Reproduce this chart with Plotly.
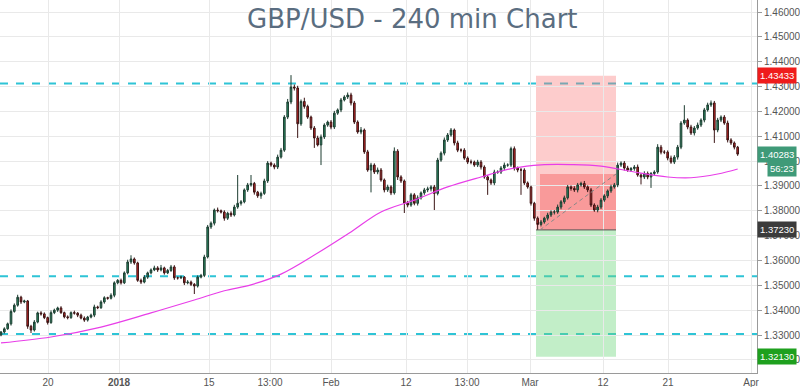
import plotly.graph_objects as go

# ---------------- data ----------------
first_open = 1.3300
closes = [
    1.3312, 1.3325, 1.3345, 1.3395, 1.3420, 1.3452, 1.3433, 1.3437, 1.3335, 1.3320,
    1.3352, 1.3389, 1.3385, 1.3370, 1.3350, 1.3390, 1.3400, 1.3409, 1.3390, 1.3373,
    1.3370, 1.3390, 1.3388, 1.3380, 1.3368, 1.3360, 1.3372, 1.3380, 1.3413, 1.3410,
    1.3433, 1.3450, 1.3448, 1.3460, 1.3510, 1.3520, 1.3510, 1.3550, 1.3594, 1.3606,
    1.3590, 1.3520, 1.3513, 1.3533, 1.3550, 1.3562, 1.3570, 1.3562, 1.3570, 1.3550,
    1.3560, 1.3574, 1.3530, 1.3530, 1.3533, 1.3510, 1.3513, 1.3504, 1.3497, 1.3533,
    1.3540, 1.3614, 1.3735, 1.3750, 1.3803, 1.3800, 1.3795, 1.3770, 1.3790, 1.3783,
    1.3815, 1.3830, 1.3836, 1.3884, 1.3904, 1.3910, 1.3875, 1.3860, 1.3870, 1.3920,
    1.3992, 1.3984, 1.3976, 1.4016, 1.4044, 1.4177, 1.4238, 1.4298, 1.4294, 1.4150,
    1.4240, 1.4220, 1.4177, 1.4133, 1.4093, 1.4065, 1.4097, 1.4145, 1.4157, 1.4137,
    1.4193, 1.4206, 1.4246, 1.4258, 1.4266, 1.4234, 1.4157, 1.4117, 1.4125, 1.4037,
    1.3964, 1.3984, 1.3956, 1.3964, 1.3924, 1.3884, 1.3896, 1.3872, 1.4040, 1.3936,
    1.3920, 1.3831, 1.3823, 1.3864, 1.3830, 1.3852, 1.3872, 1.3884, 1.3888, 1.3896,
    1.3870, 1.4004, 1.4032, 1.4085, 1.4105, 1.4125, 1.4073, 1.4044, 1.4044, 1.4012,
    1.3996, 1.3996, 1.3984, 1.3996, 1.3976, 1.3936, 1.3924, 1.3912, 1.3956, 1.3956,
    1.3972, 1.3984, 1.3984, 1.4050, 1.3972, 1.3964, 1.3964, 1.3912, 1.3896, 1.3830,
    1.3770, 1.3745, 1.3755, 1.3770, 1.3783, 1.3795, 1.3795, 1.3815, 1.3836, 1.3852,
    1.3896, 1.3890, 1.3884, 1.3904, 1.3910, 1.3896, 1.3884, 1.3823, 1.3803, 1.3815,
    1.3843, 1.3860, 1.3880, 1.3896, 1.3904, 1.3984, 1.3992, 1.3972, 1.3964, 1.3970,
    1.3976, 1.3944, 1.3936, 1.3950, 1.3936, 1.3950, 1.3956, 1.4056, 1.4036, 1.4036,
    1.4012, 1.3996, 1.4016, 1.4056, 1.4153, 1.4165, 1.4137, 1.4113, 1.4133, 1.4145,
    1.4165, 1.4206, 1.4226, 1.4234, 1.4125, 1.4165, 1.4177, 1.4153, 1.4085, 1.4073,
    1.4056, 1.4028,
]
wick_up_pips = [
    4, 6, 5, 8, 7, 10, 6, 5, 4, 6, 8, 5, 7, 6, 4, 9, 6, 5, 7, 4,
    6, 5, 8, 4, 6, 7, 5, 6, 9, 5, 7, 6, 4, 8, 6, 5, 7, 6, 9, 15,
    6, 5, 7, 8, 5, 6, 9, 7, 12, 5, 6, 8, 7, 5, 6, 4, 8, 6, 5, 7,
    6, 9, 8, 7, 6, 10, 5, 7, 6, 8, 9, 114, 7, 6, 8, 34, 6, 5, 7, 9,
    8, 6, 7, 10, 9, 8, 12, 48, 10, 9, 8, 15, 7, 6, 8, 9, 10, 7, 6, 8,
    9, 6, 8, 7, 10, 9, 8, 7, 12, 6, 8, 9, 7, 10, 8, 6, 9, 7, 15, 8,
    7, 6, 9, 8, 7, 10, 6, 8, 9, 7, 8, 9, 7, 10, 8, 8, 6, 9, 7, 8,
    7, 10, 6, 9, 8, 7, 8, 6, 9, 7, 8, 10, 7, 8, 9, 6, 8, 7, 6, 5,
    6, 7, 8, 6, 9, 7, 8, 10, 7, 9, 8, 6, 9, 8, 7, 10, 6, 8, 7, 9,
    8, 7, 6, 9, 8, 10, 7, 8, 9, 6, 8, 10, 7, 9, 8, 6, 7, 12, 9, 8,
    7, 10, 8, 9, 8, 60, 7, 9, 8, 10, 7, 8, 9, 10, 8, 9, 7, 8, 10, 7, 6, 5,
]
wick_dn_pips = [
    5, 6, 4, 7, 5, 6, 8, 5, 10, 12, 6, 5, 7, 6, 8, 5, 6, 7, 5, 6,
    7, 5, 6, 8, 5, 7, 6, 5, 8, 6, 5, 7, 6, 5, 8, 6, 7, 5, 6, 8,
    7, 6, 8, 5, 7, 6, 5, 8, 6, 7, 5, 6, 8, 7, 5, 9, 6, 7, 32, 6,
    5, 7, 6, 8, 9, 7, 6, 10, 7, 8, 6, 7, 9, 6, 8, 7, 10, 8, 12, 6,
    8, 7, 9, 8, 6, 7, 8, 9, 10, 57, 8, 9, 7, 8, 40, 6, 81, 8, 7, 9,
    8, 7, 9, 6, 8, 10, 8, 7, 9, 8, 7, 90, 8, 9, 7, 10, 8, 9, 7, 12,
    8, 40, 9, 7, 8, 9, 7, 8, 9, 10, 67, 8, 7, 9, 8, 7, 10, 8, 9, 7,
    8, 9, 7, 8, 10, 7, 60, 8, 9, 7, 8, 9, 7, 8, 10, 9, 100, 8, 7, 9,
    10, 22, 8, 7, 9, 8, 10, 7, 9, 8, 7, 9, 8, 10, 7, 8, 9, 8, 7, 9,
    8, 7, 9, 8, 7, 9, 8, 10, 7, 8, 9, 7, 30, 8, 9, 44, 8, 7, 9, 8,
    9, 7, 8, 10, 8, 7, 9, 8, 10, 7, 8, 9, 7, 8, 52, 9, 8, 7, 10, 8, 9, 7,
]

ma_idx = [0, 15, 30, 45, 58, 67, 75, 84, 95, 105, 114, 124, 134, 144, 154,
          162, 171, 180, 190, 200, 207, 215, 221]
ma_vals = [1.3268, 1.3292, 1.3332, 1.3389, 1.3441, 1.3478, 1.3502, 1.3545,
           1.3630, 1.3715, 1.3795, 1.3843, 1.3896, 1.3936, 1.3972, 1.3985, 1.3986,
           1.3980, 1.3956, 1.3936, 1.3933, 1.3948, 1.3968]

tick_pos = [14.1, 35.4, 62.4, 80.7, 99.0, 121.5, 139.8, 158.7, 180.6, 200.1, 225.0]
tick_labels = ["20", "<b>2018</b>", "15", "13:00", "Feb", "12", "13:00", "Mar",
               "12", "21", "Apr"]

level_lines = [1.4312, 1.3536, 1.3304]

pos_start, pos_end = 160.5, 184.5
pos_entry_idx = 161.7
entry_price = 1.37230
stop_price = 1.43433
target_price = 1.32130
pos_current = 1.3948
last_price = 1.40283
countdown = "56:23"

# ---------------- build ----------------
pip = 0.0001
opens = [first_open] + closes[:-1]
highs = [max(o, c) + u * pip for o, c, u in zip(opens, closes, wick_up_pips)]
lows = [min(o, c) - d * pip for o, c, d in zip(opens, closes, wick_dn_pips)]
xs = list(range(len(closes)))

fig = go.Figure()
fig.add_trace(go.Candlestick(
    x=xs, open=opens, high=highs, low=lows, close=closes,
    increasing=dict(line=dict(color="#1d3d31", width=1), fillcolor="#2a8a62"),
    decreasing=dict(line=dict(color="#3a1414", width=1), fillcolor="#c62828"),
    whiskerwidth=0, showlegend=False, hoverinfo="skip",
))
fig.add_trace(go.Scatter(
    x=ma_idx, y=ma_vals, mode="lines", line=dict(color="#e83ee8", width=1.2, shape="spline"),
    showlegend=False, hoverinfo="skip",
))

shapes = []
for lv in level_lines:
    shapes.append(dict(type="line", xref="paper", yref="y", x0=0, x1=1, y0=lv, y1=lv,
                       line=dict(color="#2ec4d6", width=2, dash="8px,8px"), layer="below"))
shapes += [
    dict(type="rect", xref="x", yref="y", x0=pos_start, x1=pos_end, y0=entry_price, y1=stop_price,
         fillcolor="rgba(250,120,120,0.38)", line=dict(width=0), layer="below"),
    dict(type="rect", xref="x", yref="y", x0=pos_start, x1=pos_end, y0=target_price, y1=entry_price,
         fillcolor="rgba(110,215,125,0.42)", line=dict(width=0), layer="below"),
    dict(type="rect", xref="x", yref="y", x0=pos_entry_idx, x1=pos_end, y0=entry_price, y1=pos_current,
         fillcolor="rgba(240,60,60,0.35)", line=dict(width=0), layer="below"),
    dict(type="line", xref="x", yref="y", x0=pos_start, x1=pos_end, y0=entry_price, y1=entry_price,
         line=dict(color="#555555", width=1)),
    dict(type="line", xref="x", yref="y", x0=pos_entry_idx, x1=pos_end, y0=entry_price, y1=pos_current,
         line=dict(color="#888888", width=1, dash="4px,3px")),
]

ann = [dict(text="GBP/USD - 240 min Chart", xref="paper", yref="paper", x=412 / 757, y=1 - 19 / 373,
            xanchor="center", yanchor="middle", showarrow=False,
            font=dict(family="DejaVu Sans", size=26, color="#5a6d80"))]


def price_label(val, text, bg, xanchor="left", xshift=0):
    return dict(text=text, xref="paper", yref="y", x=1, y=val, xanchor=xanchor, yanchor="middle",
                xshift=xshift, showarrow=False, bgcolor=bg, borderpad=2,
                font=dict(family="Liberation Sans", size=9.5, color="white"))


ann += [
    price_label(stop_price, "%.5f" % stop_price, "#ef1c1c"),
    price_label(last_price, "%.5f" % last_price, "#3f9a78"),
    dict(text=countdown, xref="paper", yref="y", x=1, y=last_price, xanchor="right", yanchor="middle",
         xshift=40, yshift=-14, showarrow=False, bgcolor="#3f9a78", borderpad=2,
         font=dict(family="Liberation Sans", size=9.5, color="white")),
    price_label(entry_price, "%.5f" % entry_price, "#3b3b3b"),
    price_label(target_price, "%.5f" % target_price, "#1ea01e"),
]

fig.update_layout(
    width=800, height=387,
    margin=dict(l=0, r=43, t=0, b=14),
    paper_bgcolor="white", plot_bgcolor="white",
    shapes=shapes, annotations=ann,
    font=dict(family="Liberation Sans", size=10, color="#555555"),
    xaxis=dict(range=[-0.3, 226.8], rangeslider=dict(visible=False), automargin=False,
               tickmode="array", tickvals=tick_pos, ticktext=tick_labels,
               showgrid=True, gridcolor="#e9e9e9", gridwidth=1,
               showline=True, linecolor="#9a9a9a", linewidth=1,
               ticks="", tickfont=dict(size=10, color="#555555"), zeroline=False, fixedrange=True),
    yaxis=dict(range=[1.31471, 1.46483], side="right", dtick=0.01, tick0=1.30, automargin=False,
               tickformat=".5f", showgrid=True, gridcolor="#e9e9e9", gridwidth=1,
               showline=True, linecolor="#9a9a9a", linewidth=1,
               ticks="outside", ticklen=4, tickcolor="#9a9a9a",
               tickfont=dict(size=10, color="#555555"), zeroline=False, fixedrange=True),
)

fig.write_html("out.html", config=dict(displayModeBar=False, staticPlot=True),
               post_script="document.body.style.margin='0';document.body.style.overflow='hidden';")
